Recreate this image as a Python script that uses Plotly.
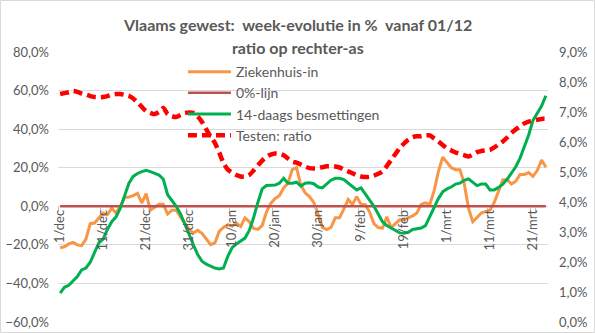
import pandas as pd
import plotly.graph_objects as go

# Daily categories 1/dec .. 24/mrt
MAAND = {12: "dec", 1: "jan", 2: "feb", 3: "mrt"}
dagen = pd.date_range("2020-12-01", "2021-03-24", freq="D")
categorieen = [f"{d.day}/{MAAND[d.month]}" for d in dagen]

tick_labels = ["1/dec", "11/dec", "21/dec", "31/dec", "10/jan", "20/jan",
               "30/jan", "9/feb", "19/feb", "1/mrt", "11/mrt", "21/mrt"]

# Week-evolution in % (left axis)
ziekenhuis_in = [
    -21.5, -21, -19.5, -18.7, -20, -20.4, -17, -9, -8.7, -6,
    -3.5, -4.4, -1, -3.5, 0, 4.5, 4.8, 5.5, 6.7, 1.7,
    6.5, -2, -0.5, 1, 1, -4, -2, -2, -5.5, -9,
    -12, -13.8, -12.5, -14, -17, -19.9, -19, -13, -11, -9.5,
    -10.4, -8.7, -10.4, -6, -8, -11.5, -12, -10, -3, 1.5,
    4, 5.5, 9.5, 12, 19, 20, 11, 7, 5, 2,
    -4, -11, -12.1, -11, -6, -6, -1.5, 3.5, 1, 5,
    1, 0.8, -3, -9, -11, -11.3, -5.5, -11, -9, -7,
    -7, -6, -5, -3.5, 1, 1.8, 1, 8, 18, 25.5,
    23, 20, 19, 19, 12, -1, -8, -6, -3.5, -2.6,
    -2, 2, 8, 13.8, 13.8, 11.5, 13, 16.5, 16.5, 17.5,
    15.5, 18.5, 24, 20.4,
]

besmettingen_14d = [
    -45, -42, -41, -39, -36.5, -33, -32, -29, -24, -19,
    -17, -12, -8, -5.5, -1, 6, 12, 15.5, 17, 18,
    18.6, 18, 17, 16.2, 14, 6, 3, 0, -4, -9,
    -14.5, -20, -25, -28.5, -30, -31, -32, -32.5, -32, -26,
    -21.5, -19.5, -18, -16.5, -12.5, -6, 2, 9, 10.8, 10.8,
    11, 12, 14.5, 12, 12, 12.5, 10.5, 12, 12.2, 11.7,
    10, 9.5, 11.5, 13.5, 14.5, 14.5, 13.8, 12, 10, 8.5,
    9.5, 6.5, 3, 0, -4, -8, -10, -11.3, -12.8, -13.8,
    -14, -13.5, -12, -11.8, -11.3, -10, -5.5, -1, 4, 7.5,
    9, 10, 11.5, 12, 13.5, 14.2, 12.5, 10.7, 11.5, 11.5,
    8.5, 8.5, 9.8, 11.5, 14, 17, 20.5, 25, 31, 37,
    44.5, 48.5, 52, 57.3,
]

nul_lijn = [0] * len(categorieen)

# Positivity ratio in % (right axis)
testen_ratio = [
    7.6, 7.63, 7.66, 7.7, 7.67, 7.62, 7.58, 7.53, 7.5, 7.49,
    7.5, 7.53, 7.58, 7.6, 7.6, 7.57, 7.54, 7.45, 7.32, 7.17,
    7.03, 6.97, 6.93, 7.0, 7.13, 6.93, 6.86, 6.83, 6.9, 6.97,
    6.98, 6.97, 6.85, 6.67, 6.42, 6.18, 5.97, 5.65, 5.3, 5.08,
    4.98, 4.9, 4.85, 4.84, 4.9, 5.05, 5.22, 5.38, 5.51, 5.58,
    5.62, 5.61, 5.56, 5.45, 5.35, 5.31, 5.25, 5.18, 5.13, 5.12,
    5.13, 5.16, 5.19, 5.19, 5.18, 5.15, 5.08, 5.02, 4.96, 4.89,
    4.85, 4.83, 4.84, 4.88, 4.94, 5.02, 5.2, 5.4, 5.6, 5.8,
    5.95, 6.08, 6.16, 6.19, 6.19, 6.22, 6.22, 6.12, 6.02, 5.9,
    5.79, 5.72, 5.65, 5.6, 5.56, 5.52, 5.58, 5.66, 5.7, 5.72,
    5.74, 5.82, 5.92, 6.02, 6.15, 6.3, 6.42, 6.52, 6.62, 6.68,
    6.71, 6.74, 6.77, 6.77,
]

LEFT_RANGE = [-60, 80]
RIGHT_RANGE = [0, 9]

FONT = "Lato, Carlito, Calibri, sans-serif"
GREY = "#595959"
W, H = 595, 333
M = dict(l=58, r=47, t=52, b=11)
plot_w = W - M["l"] - M["r"]
plot_h = H - M["t"] - M["b"]

fig = go.Figure()
fig.add_trace(go.Scatter(x=categorieen, y=ziekenhuis_in, name="Ziekenhuis-in",
                         mode="lines", line=dict(color="#F79646", width=3)))
fig.add_trace(go.Scatter(x=categorieen, y=nul_lijn, name="0%-lijn",
                         mode="lines", line=dict(color="#C0504D", width=2.5)))
fig.add_trace(go.Scatter(x=categorieen, y=besmettingen_14d, name="14-daags besmettingen",
                         mode="lines", line=dict(color="#00B050", width=3)))
fig.add_trace(go.Scatter(x=categorieen, y=testen_ratio, name="Testen: ratio",
                         mode="lines", yaxis="y2",
                         line=dict(color="#FF0000", width=4.5, dash="9px,5px",
                                   shape="spline", smoothing=0.6)))

# x axis crosses the left axis at 0
x_pos = (0 - LEFT_RANGE[0]) / (LEFT_RANGE[1] - LEFT_RANGE[0])

fig.update_layout(
    width=W, height=H, margin=dict(M, autoexpand=False),
    paper_bgcolor="white", plot_bgcolor="white",
    separators=",.",
    font=dict(family=FONT, color=GREY, size=13),
    showlegend=True,
    legend=dict(x=0.255, y=0.985, xanchor="left", yanchor="top",
                bgcolor="rgba(0,0,0,0)", font=dict(size=14, color=GREY),
                itemwidth=43, tracegroupgap=0),
    xaxis=dict(type="category", range=[-0.5, len(categorieen) - 0.5],
               anchor="free", position=x_pos, automargin=False,
               tickmode="array", tickvals=tick_labels, ticktext=tick_labels,
               tickangle=-90, tickson="boundaries",
               ticks="outside", ticklen=5, tickcolor="#BFBFBF",
               showgrid=False, showline=False, zeroline=False,
               tickfont=dict(size=13, color=GREY)),
    yaxis=dict(range=LEFT_RANGE, dtick=20, tickformat=".1f", ticksuffix="%",
               automargin=False,
               showgrid=True, gridcolor="#D9D9D9", gridwidth=1,
               zeroline=False, showline=False, ticks="",
               ticklabelstandoff=8, tickfont=dict(size=13, color=GREY)),
    yaxis2=dict(range=RIGHT_RANGE, dtick=1, tickformat=".1f", ticksuffix="%",
                overlaying="y", side="right", showgrid=False, automargin=False,
                zeroline=False, showline=False, ticks="",
                ticklabelstandoff=10, tickfont=dict(size=13, color=GREY)),
    annotations=[
        dict(text="<b>Vlaams gewest:  week-evolutie in %  vanaf 01/12</b>",
             xref="paper", yref="paper",
             x=(W / 2 - M["l"]) / plot_w, y=(H - M["b"] - 25) / plot_h,
             showarrow=False, xanchor="center", yanchor="middle",
             font=dict(size=16, color=GREY, family=FONT)),
        dict(text="<b>ratio op rechter-as</b>",
             xref="paper", yref="paper",
             x=(W / 2 - M["l"]) / plot_w, y=(H - M["b"] - 48) / plot_h,
             showarrow=False, xanchor="center", yanchor="middle",
             font=dict(size=16, color=GREY, family=FONT)),
    ],
    shapes=[dict(type="rect", xref="paper", yref="paper",
                 x0=-(M["l"] - 0.5) / plot_w, x1=1 + (M["r"] - 0.5) / plot_w,
                 y0=-(M["b"] - 0.5) / plot_h, y1=1 + (M["t"] - 0.5) / plot_h,
                 line=dict(color="#D9D9D9", width=1), layer="below")],
)

fig.write_html("out.html")
